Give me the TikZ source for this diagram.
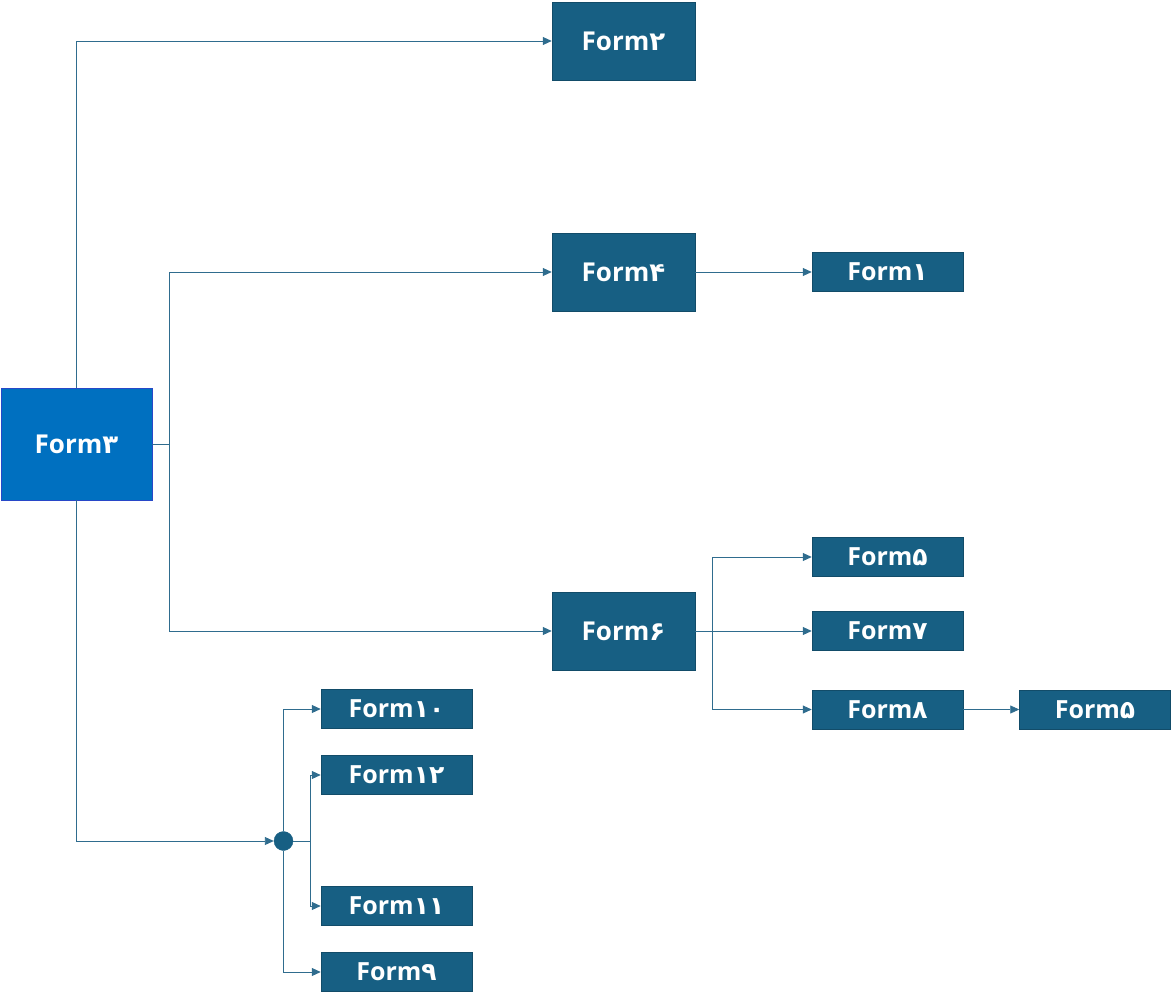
\documentclass[tikz,border=0pt]{standalone}
\usepackage{fontspec}
\setmainfont{Open Sans}
\newfontfamily\fadig{DejaVu Sans}
\usetikzlibrary{arrows.meta}
\definecolor{boxc}{HTML}{175F83}
\definecolor{mainc}{HTML}{0070C0}
\definecolor{mainb}{HTML}{2848C8}
\definecolor{linec}{HTML}{2F6C8E}
\begin{document}
\begin{tikzpicture}[x=1pt,y=-1pt,
  bigbox/.style={draw=boxc!80!black,line width=0.5pt,fill=boxc,text=white,minimum width=143pt,minimum height=78pt,inner sep=0pt,font=\bfseries\fontsize{26}{28}\selectfont},
  smallbox/.style={draw=boxc!80!black,line width=0.5pt,fill=boxc,text=white,minimum width=151pt,minimum height=39pt,inner sep=0pt,font=\bfseries\fontsize{25}{27}\selectfont},
  conn/.style={draw=linec,line width=0.9pt,-{Triangle[length=9pt,width=8pt]}},
  plain/.style={draw=linec,line width=0.9pt}]
\useasboundingbox (0,0) rectangle (1172,1008);
\node[draw=mainb,line width=0.8pt,fill=mainc,text=white,minimum width=151pt,minimum height=112pt,inner sep=0pt,font=\bfseries\fontsize{26}{28}\selectfont] (f3) at (76.5,444) {Form{\fadig ۳}};
\node[bigbox] (f2) at (623.5,41) {Form{\fadig ۲}};
\node[bigbox] (f4) at (623.5,272) {Form{\fadig ۴}};
\node[bigbox] (f6) at (623.5,631) {Form{\fadig ۶}};
\node[smallbox] (f1) at (887.5,272) {Form{\fadig ۱}};
\node[smallbox] (f5a) at (887.5,557) {Form{\fadig ۵}};
\node[smallbox] (f7) at (887.5,631) {Form{\fadig ۷}};
\node[smallbox] (f8) at (887.5,709.5) {Form{\fadig ۸}};
\node[smallbox] (f5b) at (1095,709.5) {Form{\fadig ۵}};
\node[smallbox] (f10) at (396.5,709) {Form{\fadig ۱۰}};
\node[smallbox] (f12) at (396.5,775) {Form{\fadig ۱۲}};
\node[smallbox] (f11) at (396.5,906) {Form{\fadig ۱۱}};
\node[smallbox] (f9) at (396.5,972) {Form{\fadig ۹}};
\node[circle,fill=boxc,draw=boxc,minimum size=19pt,inner sep=0pt] (c) at (283.5,841) {};
\coordinate (j1) at (169,444);
\coordinate (j2) at (712,631);
\coordinate (j3) at (310,841);
% connectors
\draw[conn] (f3.north) |- (f2.west);
\draw[plain] (f3.east) -- (j1);
\draw[conn] (j1) |- (f4.west);
\draw[conn] (j1) |- (f6.west);
\draw[conn] (f4.east) -- (f1.west);
\draw[conn] (f6.east) -- (f7.west);
\draw[conn] (j2) |- (f5a.west);
\draw[conn] (j2) |- (f8.west);
\draw[conn] (f8.east) -- (f5b.west);
\draw[conn] (f3.south) |- (c.west);
\draw[conn] (c.north) |- (f10.west);
\draw[conn] (c.south) |- (f9.west);
\draw[plain] (c.east) -- (j3);
\draw[conn] (j3) |- (f12.west);
\draw[conn] (j3) |- (f11.west);
\end{tikzpicture}
\end{document}
